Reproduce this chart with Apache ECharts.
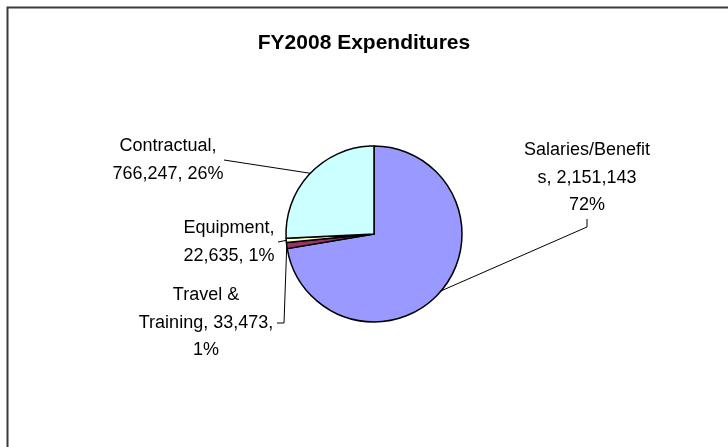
<!DOCTYPE html>
<html>
<head>
<meta charset="utf-8">
<title>FY2008 Expenditures</title>
<script src="https://cdn.jsdelivr.net/npm/echarts@6/dist/echarts.min.js"></script>
<style>
  html, body { margin: 0; padding: 0; background: #fff; }
  #chart { width: 728px; height: 447px; }
</style>
</head>
<body>
<div id="chart"></div>
<script>
// slice order follows the reference, clockwise from 12 o'clock
const names = ['Salaries/Benefits', 'Travel & Training', 'Equipment', 'Contractual'];
const values = [2151143, 33473, 22635, 766247];
const colors = ['#9999FF', '#993366', '#FFFFCC', '#CCFFFF'];
// how the old chart wrapped each label ({v} = value, {p} = percent)
const labelTemplates = [
  'Salaries/Benefit\ns, {v}\n{p}',
  'Travel &\nTraining, {v},\n{p}',
  'Equipment,\n{v}, {p}',
  'Contractual,\n{v}, {p}'
];

// where each label sits, and the bend of its leader line
const labelSpots = [
  { x: 587, y: 178, bend: [[587, 227], [587, 219]] },
  { x: 206, y: 323, bend: [[284, 323], [277, 323]] },
  { x: 229, y: 242, bend: [[278, 242], [278, 242]] },
  { x: 168, y: 160, bend: [[224, 160], [224, 160]] }
];

const chart = echarts.init(document.getElementById('chart'));

chart.setOption({
  backgroundColor: '#fff',
  animation: false,
  title: {
    text: 'FY2008 Expenditures',
    left: 'center',
    top: 28,
    textStyle: {
      fontFamily: 'Liberation Sans, Arial, sans-serif',
      fontSize: 21,
      fontWeight: 'bold',
      color: '#000'
    }
  },
  graphic: [{
    type: 'rect',
    left: 5,
    top: 5,
    shape: { width: 760, height: 480 },
    style: { fill: 'none', stroke: '#3a3a3a', lineWidth: 2 },
    silent: true
  }],
  series: [{
    type: 'pie',
    center: [374, 234],
    radius: 88,
    startAngle: 90,
    clockwise: true,
    avoidLabelOverlap: false,
    itemStyle: { borderColor: '#000', borderWidth: 1.5 },
    label: {
      show: true,
      position: 'outside',
      color: '#000',
      fontFamily: 'Liberation Sans, Arial, sans-serif',
      fontSize: 18,
      lineHeight: 27.5,
      align: 'center',
      formatter: function (p) {
        const v = p.value.toLocaleString('en-US');
        const pc = Math.round(p.percent) + '%';
        return labelTemplates[p.dataIndex].replace('{v}', v).replace('{p}', pc);
      }
    },
    labelLine: {
      show: true,
      length: 10,
      length2: 10,
      lineStyle: { color: '#000', width: 1 }
    },
    labelLayout: function (params) {
      const spot = labelSpots[params.dataIndex];
      const anchor = params.labelLinePoints ? params.labelLinePoints[0] : spot.bend[0];
      return {
        x: spot.x,
        y: spot.y,
        align: 'center',
        verticalAlign: 'middle',
        labelLinePoints: [anchor, spot.bend[0], spot.bend[1]]
      };
    },
    emphasis: { disabled: true },
    data: names.map(function (n, i) {
      return { name: n, value: values[i], itemStyle: { color: colors[i] } };
    })
  }]
});
</script>
</body>
</html>
